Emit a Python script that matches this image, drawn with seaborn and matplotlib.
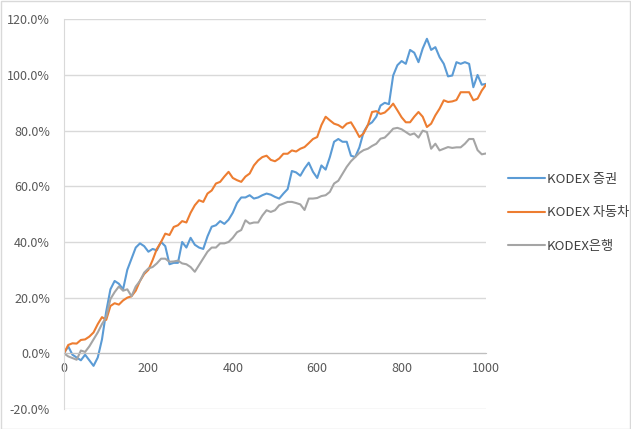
import numpy as np
import pandas as pd
import seaborn as sns
import matplotlib.pyplot as plt
from matplotlib.ticker import FuncFormatter

# values, one point every 10 steps (0..1000), in %
steps = list(range(0, 1001, 10))

securities = [0, 2.5, -0.5, -1.5, -2.5, -0.5, -2.5, -4.5, -1.5, 5,
              15, 23, 26, 25, 23, 30, 34, 38, 39.5, 38.5,
              36.5, 37.5, 37, 40, 38.5, 32, 32.5, 32.5, 40, 38,
              41.5, 39, 38, 37.5, 42, 45.5, 46, 47.5, 46.5, 48,
              50.5, 54, 56, 56, 56.8, 55.6, 56, 56.8, 57.4, 57,
              56.2, 55.6, 57.4, 59, 65.5, 65, 63.8, 66.4, 68.5, 65.2,
              63, 67.5, 66, 70.5, 76, 77, 76, 76, 71, 70.5,
              74, 79.5, 82, 83, 85, 89, 90, 89.5, 99.8, 103.5,
              105, 104, 109, 108, 104.6, 109.5, 113, 109, 110, 106.4,
              104, 99.5, 99.8, 104.6, 104, 104.6, 104, 95.6, 100, 96.5,
              96.8]

autos = [0, 3, 3.6, 3.5, 4.8, 5, 6, 7.5, 10.5, 13,
         12, 17, 18, 17.5, 19, 20, 20.5, 22.5, 26, 28.5,
         30, 33.5, 37.5, 40, 43, 42.5, 45.4, 46, 47.5, 47,
         50.5, 53.2, 55, 54.4, 57.4, 58.5, 61, 61.6, 63.5, 65.2,
         63, 62.2, 61.6, 63.5, 64.6, 67.5, 69.3, 70.5, 71, 69.5,
         69, 70, 71.7, 71.7, 72.9, 72.5, 73.5, 74.1, 75.5, 77,
         77.7, 82, 85, 83.7, 82.5, 82, 81, 82.5, 83, 80.5,
         77.7, 79, 82, 86.7, 87, 86, 86.5, 87.9, 89.7, 87.3,
         84.8, 83, 83, 85, 86.7, 85, 81.3, 82.5, 85.5, 87.9,
         90.9, 90.3, 90.5, 91, 93.8, 93.8, 93.8, 90.9, 91.5, 94.4,
         96.5]

banks = [0, -1.1, -1.7, -2.3, 1, 0.5, 2.5, 5, 7.5, 10.5,
         13, 19.5, 22, 24, 22.5, 23, 20.5, 24, 26, 29,
         30.5, 31, 32.3, 34, 34, 32.9, 33, 33.3, 32.3, 32,
         31, 29.3, 31.7, 34.1, 36.5, 38, 38, 39.5, 39.5, 40,
         41.5, 43.5, 44.3, 47.8, 46.6, 47, 47, 49.5, 51.4, 50.8,
         51.4, 53.2, 53.8, 54.4, 54.4, 54, 53.5, 51.5, 55.6, 55.6,
         55.8, 56.5, 56.8, 58, 61, 62, 64.5, 67, 69, 70.5,
         72, 73, 73.5, 74.5, 75.3, 77.1, 77.5, 79, 80.7, 81,
         80.5, 79.5, 78.5, 79, 77.5, 80, 79.5, 73.5, 75.3, 72.9,
         73.5, 74.1, 73.8, 74, 74, 75.3, 77, 77, 73, 71.5,
         71.8]

names = ['KODEX 증권', 'KODEX 자동차', 'KODEX은행']
colors = ['#5b9bd5', '#ed7d31', '#a5a5a5']
y_ticks = [-20, 0, 20, 40, 60, 80, 100, 120]
x_ticks = [0, 200, 400, 600, 800, 1000]

df = pd.concat([
    pd.DataFrame({'step': steps, 'ret': securities, 'series': names[0]}),
    pd.DataFrame({'step': steps, 'ret': autos, 'series': names[1]}),
    pd.DataFrame({'step': steps, 'ret': banks, 'series': names[2]}),
])

sns.set_style('white')
plt.rcParams['font.family'] = ['Noto Sans CJK KR', 'DejaVu Sans']

fig = plt.figure(figsize=(6.31, 4.29), dpi=100)
ax = fig.add_axes([64 / 631, 1 - 409 / 429, 422 / 631, 389.7 / 429])

sns.lineplot(data=df, x='step', y='ret', hue='series', palette=colors,
             linewidth=1.5, errorbar=None, ax=ax)

ax.set_xlim(0, 1000)
ax.set_ylim(-20, 120)
ax.set_yticks(y_ticks)
ax.set_xticks(x_ticks)
ax.yaxis.set_major_formatter(FuncFormatter(lambda v, p: f'{v:.1f}%'))
ax.grid(axis='y', color='#d9d9d9', linewidth=1)
ax.set_axisbelow(True)
ax.set_xlabel('')
ax.set_ylabel('')

for s in ['top', 'right']:
    ax.spines[s].set_visible(False)
ax.spines['bottom'].set_position(('data', 0))
ax.spines['bottom'].set_color('#bfbfbf')
ax.spines['left'].set_color('#d9d9d9')
ax.tick_params(axis='both', length=0, labelsize=9, labelcolor='#595959')
ax.tick_params(axis='y', pad=10)
ax.tick_params(axis='x', pad=6)

handles, labels = ax.get_legend_handles_labels()
ax.get_legend().remove()
fig.legend(handles, labels, loc='center left', bbox_to_anchor=(496 / 631, 1 - 213 / 429),
           frameon=False, fontsize=9.5, handlelength=2.8, handletextpad=0.15,
           labelspacing=1.55, labelcolor='#404040')

fig.patches.append(plt.Rectangle((0.001, 0.001), 0.997, 0.996, transform=fig.transFigure,
                                 fill=False, edgecolor='#d9d9d9', linewidth=1))

fig.savefig('out.png', dpi=100)
